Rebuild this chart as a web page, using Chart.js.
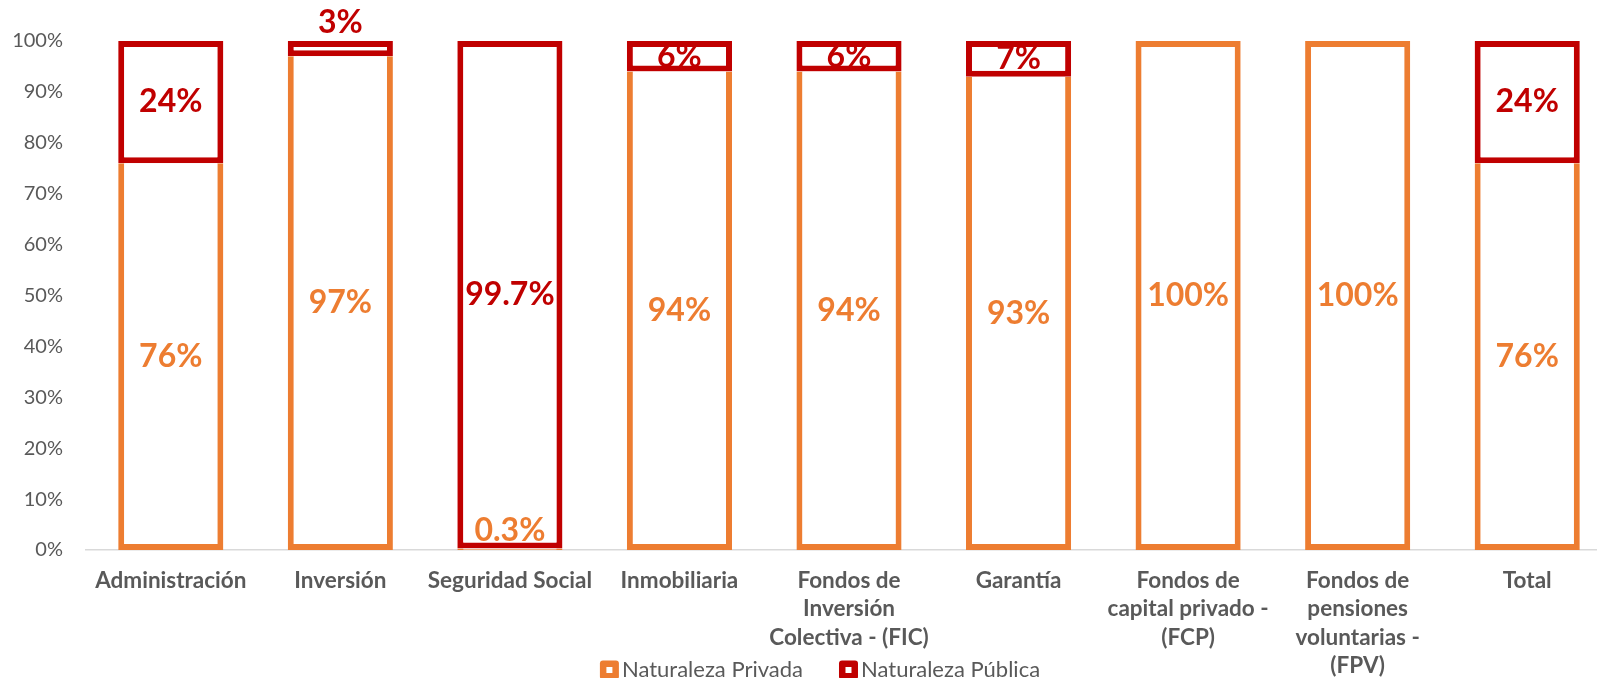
<!DOCTYPE html>
<html>
<head>
<meta charset="utf-8">
<script src="https://cdn.jsdelivr.net/npm/chart.js@4.4.1/dist/chart.umd.min.js"></script>
<style>
  html, body { margin: 0; padding: 0; background: #fff; overflow: hidden; }
  #caja { position: relative; width: 1612px; height: 678px; }
</style>
</head>
<body>
<div id="caja"><canvas id="grafico"></canvas></div>
<script>
// datos
const categorias = [
  'Administración',
  'Inversión',
  'Seguridad Social',
  'Inmobiliaria',
  ['Fondos de', 'Inversión', 'Colectiva - (FIC)'],
  'Garantía',
  ['Fondos de', 'capital privado -', '(FCP)'],
  ['Fondos de', 'pensiones', 'voluntarias -', '(FPV)'],
  'Total'
];
const naturalezaPrivada = [76, 97, 0.3, 94, 94, 93, 100, 100, 76];
const naturalezaPublica = [24, 3, 99.7, 6, 6, 7, 0, 0, 24];
const etiquetasY = ['0%', '10%', '20%', '30%', '40%', '50%', '60%', '70%', '80%', '90%', '100%'];

const naranja = '#ED7D31';
const rojo = '#C00000';
const gris = '#595959';

Chart.defaults.font.family = 'Lato';

// etiquetas de valor dentro de cada barra (si no cabe, se pone encima)
const etiquetasBarras = {
  id: 'etiquetasBarras',
  afterDatasetsDraw(chart) {
    const ctx = chart.ctx;
    ctx.save();
    ctx.font = 'bold 32px Lato';
    ctx.textAlign = 'center';
    ctx.textBaseline = 'middle';
    chart.data.datasets.forEach((ds, i) => {
      const meta = chart.getDatasetMeta(i);
      meta.data.forEach((barra, j) => {
        const v = ds.data[j];
        if (!v) return;
        const alto = barra.base - barra.y;
        let y = (barra.y + barra.base) / 2;
        if (alto < 20) y = barra.y - 18;
        ctx.fillStyle = ds.borderColor;
        ctx.fillText(v + '%', barra.x, y);
      });
    });
    ctx.restore();
  }
};

// leyenda abajo, dibujada a mano para que quede pegada a las etiquetas
const leyenda = {
  id: 'leyenda',
  afterDraw(chart) {
    const ctx = chart.ctx;
    ctx.save();
    ctx.font = '22px Lato';
    ctx.textBaseline = 'middle';
    const lado = 19, sep = 3, hueco = 36, yc = 670;
    const items = chart.data.datasets.map(ds => ({
      texto: ds.label,
      color: ds.borderColor,
      ancho: lado + sep + ctx.measureText(ds.label).width
    }));
    const total = items.reduce((s, it) => s + it.ancho, 0) + hueco * (items.length - 1);
    let x = 820 - total / 2;
    items.forEach(it => {
      ctx.fillStyle = it.color;
      ctx.beginPath();
      ctx.roundRect(x, yc - lado / 2, lado, lado, 3);
      ctx.fill();
      ctx.fillStyle = '#fff';
      ctx.fillRect(x + 6.5, yc - lado / 2 + 6.5, lado - 13, lado - 13);
      ctx.fillStyle = gris;
      ctx.fillText(it.texto, x + lado + sep, yc);
      x += it.ancho + hueco;
    });
    ctx.restore();
  }
};

const grafico = new Chart(document.getElementById('grafico'), {
  type: 'bar',
  data: {
    labels: categorias,
    datasets: [{
      label: 'Naturaleza Privada',
      data: naturalezaPrivada,
      backgroundColor: '#fff',
      borderColor: naranja,
      borderWidth: 6,
      borderSkipped: ctx => naturalezaPublica[ctx.dataIndex] > 0 ? 'top' : false
    }, {
      label: 'Naturaleza Pública',
      data: naturalezaPublica,
      backgroundColor: '#fff',
      borderColor: rojo,
      borderWidth: 6,
      borderSkipped: false
    }]
  },
  options: {
    responsive: true,
    maintainAspectRatio: false,
    animation: false,
    barPercentage: 0.62,
    categoryPercentage: 1,
    layout: { padding: { top: 41, left: 0, right: 0, bottom: 0 } },
    plugins: {
      legend: { display: false },
      tooltip: { enabled: false }
    },
    scales: {
      x: {
        stacked: true,
        grid: { display: false },
        border: { display: true, color: '#D9D9D9', width: 1.5 },
        ticks: {
          color: gris,
          font: { size: 22.5, weight: 'bold', lineHeight: 1.27 },
          padding: 8,
          maxRotation: 0,
          autoSkip: false
        },
        afterFit: scale => { scale.height = 128; }
      },
      y: {
        stacked: true,
        min: 0,
        max: 100,
        grid: { display: false },
        border: { display: false },
        ticks: {
          stepSize: 10,
          color: gris,
          font: { size: 20 },
          padding: 15,
          callback: (v, i) => etiquetasY[i]
        },
        afterFit: scale => { scale.width = 86; }
      }
    }
  },
  plugins: [etiquetasBarras, leyenda]
});
</script>
</body>
</html>
